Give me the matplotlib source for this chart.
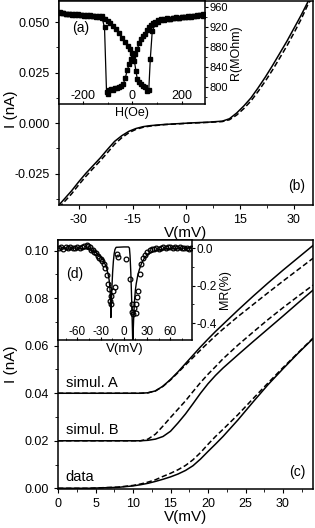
import numpy as np
import matplotlib
matplotlib.use("Agg")
import matplotlib.pyplot as plt
from matplotlib.ticker import MultipleLocator, FormatStrFormatter

plt.rcParams['font.family'] = ['Liberation Sans', 'DejaVu Sans']
plt.rcParams['axes.unicode_minus'] = False

# ---- panel (b): I-V, solid and dashed
vb = [-35.5, -32, -30, -28, -26, -24, -22, -20, -18, -16, -14, -12, -10, -6, -2, 0,
      2, 6, 10, 12, 14, 16, 18, 20, 22, 24, 26, 28, 30, 32, 34, 35.3]
ib_solid = [-0.0405, -0.0335, -0.0290, -0.0248, -0.0210, -0.0172, -0.0130, -0.0090, -0.0062,
            -0.0040, -0.0026, -0.0017, -0.0012, -0.0006, -0.0002, 0.0, 0.0002, 0.0005, 0.0010,
            0.0022, 0.0050, 0.0085, 0.0125, 0.0175, 0.0228, 0.0285, 0.0345, 0.0405, 0.0470,
            0.0535, 0.0605, 0.0630]
ib_dash = [-0.0418, -0.0350, -0.0305, -0.0263, -0.0224, -0.0186, -0.0146, -0.0104, -0.0072,
           -0.0047, -0.0030, -0.0020, -0.0014, -0.0007, -0.0003, -0.0001, 0.0001, 0.0004, 0.0008,
           0.0017, 0.0040, 0.0072, 0.0110, 0.0157, 0.0208, 0.0263, 0.0322, 0.0382, 0.0447,
           0.0515, 0.0592, 0.0625]

# ---- inset (a): R(H), two sweeps
h_a1 = [-292, -280, -268, -256, -244, -232, -220, -208, -196, -184, -172, -160, -148, -136,
        -124, -112, -104, -100, -92, -84, -76, -68, -60, -52, -44, -36, -28, -20, -12, -4, 4,
        12, 20, 28, 36, 44, 52, 60, 68, 76, 84, 92, 104, 116, 128, 140, 152, 164, 176, 188,
        200, 212, 224, 236, 248, 260, 272, 284]
r_a1 = [949, 947, 946, 945, 944, 945, 943, 944, 942, 943, 941, 942, 940, 941,
        942, 919, 790, 786, 793, 796, 794, 798, 797, 799, 802, 806, 818, 834, 846, 856, 861,
        866, 876, 887, 895, 901, 906, 914, 920, 924, 927, 929, 933, 935, 936, 937, 936, 938,
        939, 937, 940, 939, 941, 940, 942, 941, 943, 942]
h_a2 = [-292, -280, -268, -256, -244, -232, -220, -208, -196, -184, -172, -160, -148, -136,
        -124, -112, -100, -88, -76, -64, -52, -40, -28, -16, -8, 0, 8, 14, 20, 28, 36, 44, 52,
        60, 66, 72, 80, 92, 104, 116, 128, 140, 152, 164, 176, 188, 200, 212, 224, 236, 248,
        260, 272, 284]
r_a2 = [947, 948, 946, 945, 946, 944, 945, 943, 944, 942, 943, 941, 941, 939,
        938, 936, 932, 928, 922, 915, 907, 898, 890, 882, 875, 867, 852, 832, 815, 810, 806,
        802, 799, 792, 793, 855, 912, 925, 930, 933, 934, 936, 935, 937, 938, 937, 939, 940,
        939, 941, 942, 943, 944, 945]

# ---- panel (c): data and two simulations (offset), solid and dashed
vc = [0, 4, 8, 10, 11, 12, 13, 14, 15, 16, 17, 18, 19, 20, 21, 22, 24, 26, 28, 30, 32, 34]
data_solid = [0, 0.0, 0.0004, 0.0010, 0.0015, 0.0021, 0.0029, 0.0038, 0.0048, 0.0060, 0.0075,
              0.0095, 0.0123, 0.0155, 0.0186, 0.0218, 0.0288, 0.0363, 0.0436, 0.0503, 0.0568, 0.0630]
data_dash = [0, 0.0, 0.0005, 0.0012, 0.0018, 0.0026, 0.0036, 0.0050, 0.0063, 0.0078, 0.0096,
             0.0120, 0.0150, 0.0185, 0.0218, 0.0248, 0.0310, 0.0377, 0.0443, 0.0508, 0.0570, 0.0632]
simB_solid = [0.0200, 0.0200, 0.0200, 0.0200, 0.0200, 0.0202, 0.0207, 0.0218, 0.0240, 0.0275,
              0.0313, 0.0356, 0.0400, 0.0440, 0.0475, 0.0506, 0.0562, 0.0617, 0.0671, 0.0725,
              0.0780, 0.0834]
simB_dash = [0.0200, 0.0200, 0.0200, 0.0200, 0.0200, 0.0207, 0.0228, 0.0262, 0.0298, 0.0333,
             0.0368, 0.0407, 0.0445, 0.0480, 0.0512, 0.0545, 0.0603, 0.0657, 0.0710, 0.0760,
             0.0808, 0.0855]
simA_solid = [0.0400, 0.0400, 0.0400, 0.0400, 0.0400, 0.0402, 0.0410, 0.0430, 0.0458, 0.0490,
              0.0525, 0.0560, 0.0595, 0.0628, 0.0660, 0.0690, 0.0750, 0.0808, 0.0864, 0.0918,
              0.0970, 0.1022]
simA_dash = [0.0400, 0.0400, 0.0400, 0.0400, 0.0400, 0.0402, 0.0410, 0.0429, 0.0456, 0.0487,
             0.0519, 0.0550, 0.0582, 0.0612, 0.0642, 0.0670, 0.0723, 0.0773, 0.0823, 0.0872,
             0.0920, 0.0968]

# ---- inset (d): MR vs V, measured (circles) and simulated (line)
vd = [-84, -81, -78, -75, -72, -69, -66, -63, -60, -57, -54, -51, -48, -46, -44, -42, -40, -38,
      -36, -34, -32, -30, -28, -26, -24, -22, -20, -19, -18, -17, -16, -14, -12, -9, -7, 3, 7.7,
      10, 11, 12, 13, 15.5, 16.3, 17, 18.4, 20.6, 22.8, 25, 27, 30, 33.5, 36, 39, 42, 45, 48,
      51, 54, 57, 60, 63, 66, 69, 72, 75, 78, 81, 84, 87]
mrd = [0.002, 0.006, -0.003, 0.004, 0.001, 0.007, 0.002, -0.002, 0.005, 0.003, 0.008, 0.012,
       0.018, 0.010, 0.004, -0.008, -0.012, -0.020, -0.028, -0.040, -0.052, -0.058, -0.070,
       -0.085, -0.105, -0.146, -0.19, -0.216, -0.28, -0.30, -0.254, -0.23, -0.21, -0.029,
       -0.047, -0.056, -0.164, -0.30, -0.34, -0.35, -0.32, -0.30, -0.344, -0.263, -0.227,
       -0.137, -0.083, -0.055, -0.038, -0.020, -0.011, -0.006, -0.004, 0.002, -0.003, 0.001,
       0.004, 0.002, 0.006, 0.008, 0.003, 0.005, 0.001, 0.004, -0.002, 0.003, 0.001, -0.003,
       0.002]
vd_sim = [-85, -60, -50, -45, -40, -35, -30, -27, -24, -22, -20, -19, -18, -17.3, -16.7, -16.2,
          -15.5, -14.5, -13.5, -12.5, -11.5, -10, 0, 6, 7.2, 8, 9, 10, 11, 11.6, 12.2, 13, 14,
          15, 16, 18, 20, 23, 27, 32, 40, 50, 60, 88]
mrd_sim = [0, 0, -0.003, -0.008, -0.015, -0.027, -0.045, -0.062, -0.088, -0.11, -0.145, -0.17,
           -0.21, -0.26, -0.37, -0.31, -0.22, -0.13, -0.07, -0.03, -0.008, 0.004, 0.006, 0.006,
           0.0, -0.04, -0.13, -0.26, -0.42, -0.52, -0.43, -0.34, -0.27, -0.22, -0.19, -0.145,
           -0.115, -0.08, -0.05, -0.03, -0.015, -0.006, -0.002, 0]

W, H = 315.0, 528.0
fig = plt.figure(figsize=(W / 100, H / 100), dpi=100)


def box(l, t, r, b):
    return [l / W, 1 - b / H, (r - l) / W, (b - t) / H]


lw = 1.1
dash = (0, (3.5, 1.8))

# panel (b)
axb = fig.add_axes(box(59, 1, 313, 205))
axb.plot(vb, ib_solid, color='k', lw=lw)
axb.plot(vb, ib_dash, color='k', lw=lw, linestyle=dash)
axb.set_xlim(-35.5, 35.3)
axb.set_ylim(-0.0405, 0.0605)
axb.xaxis.set_major_locator(MultipleLocator(15))
axb.xaxis.set_minor_locator(MultipleLocator(7.5))
axb.yaxis.set_major_locator(MultipleLocator(0.025))
axb.yaxis.set_minor_locator(MultipleLocator(0.0125))
axb.yaxis.set_major_formatter(FormatStrFormatter('%.3f'))
axb.set_xlabel('V(mV)', fontsize=11, labelpad=0)
axb.set_ylabel('I (nA)', fontsize=11)
axb.yaxis.set_label_coords(-0.16, 0.47)
axb.text(0.97, 0.06, '(b)', transform=axb.transAxes, fontsize=10, ha='right', va='bottom')

# inset (a)
axa = fig.add_axes(box(59, 1, 205, 104))
axa.plot(h_a1, r_a1, color='k', lw=0.9, marker='s', ms=3.2)
axa.plot(h_a2, r_a2, color='k', lw=0.9, marker='s', ms=3.2)
axa.set_xlim(-295, 292)
axa.set_ylim(765, 972)
axa.xaxis.set_major_locator(MultipleLocator(200))
axa.xaxis.set_minor_locator(MultipleLocator(100))
axa.yaxis.set_major_locator(MultipleLocator(40))
axa.yaxis.set_minor_locator(MultipleLocator(20))
axa.yaxis.tick_right()
axa.yaxis.set_label_position('right')
axa.tick_params(axis='x', which='both', direction='in', pad=-10, labelsize=9)
axa.tick_params(axis='y', which='both', direction='out', labelsize=8, pad=1)
axa.tick_params(which='major', length=2.5)
axa.tick_params(which='minor', length=1.5)
axa.set_xlabel('H(Oe)', fontsize=9, labelpad=2)
axa.set_ylabel('R(MOhm)', fontsize=9, labelpad=1)
axa.text(0.09, 0.70, '(a)', transform=axa.transAxes, fontsize=10)

# panel (c)
axc = fig.add_axes(box(58, 240, 313, 489))
axc.plot(vc, data_solid, color='k', lw=lw)
axc.plot(vc, data_dash, color='k', lw=lw, linestyle=dash)
axc.plot(vc, simB_solid, color='k', lw=lw)
axc.plot(vc, simB_dash, color='k', lw=lw, linestyle=dash)
axc.plot(vc, simA_solid, color='k', lw=lw)
axc.plot(vc, simA_dash, color='k', lw=lw, linestyle=dash)
axc.set_xlim(0, 34)
axc.set_ylim(-0.0003, 0.1045)
axc.xaxis.set_major_locator(MultipleLocator(5))
axc.xaxis.set_minor_locator(MultipleLocator(2.5))
axc.yaxis.set_major_locator(MultipleLocator(0.02))
axc.yaxis.set_minor_locator(MultipleLocator(0.01))
axc.yaxis.set_major_formatter(FormatStrFormatter('%.2f'))
axc.set_xlabel('V(mV)', fontsize=11, labelpad=0)
axc.set_ylabel('I (nA)', fontsize=11)
axc.yaxis.set_label_coords(-0.157, 0.5)
axc.text(1.0, 0.0414, 'simul. A', fontsize=10.5, va='bottom')
axc.text(1.0, 0.0214, 'simul. B', fontsize=10.5, va='bottom')
axc.text(1.0, 0.0016, 'data', fontsize=10.5, va='bottom')
axc.text(0.97, 0.04, '(c)', transform=axc.transAxes, fontsize=10, ha='right', va='bottom')

# inset (d)
axd = fig.add_axes(box(58, 240, 192, 340))
axd.plot(vd_sim, mrd_sim, color='k', lw=1.0)
axd.plot(vd, mrd, linestyle='none', marker='o', ms=3.4, mfc='none', mec='k', mew=0.9)
axd.set_xlim(-85, 88)
axd.set_ylim(-0.49, 0.043)
axd.xaxis.set_major_locator(MultipleLocator(30))
axd.xaxis.set_minor_locator(MultipleLocator(15))
axd.yaxis.set_major_locator(MultipleLocator(0.2))
axd.yaxis.set_minor_locator(MultipleLocator(0.1))
axd.yaxis.set_major_formatter(FormatStrFormatter('%.1f'))
axd.yaxis.tick_right()
axd.yaxis.set_label_position('right')
axd.tick_params(axis='x', which='both', direction='in', pad=-10, labelsize=8.5)
axd.tick_params(axis='y', which='both', direction='out', labelsize=8.5, pad=1)
axd.tick_params(which='major', length=2.5)
axd.tick_params(which='minor', length=1.5)
axd.set_xlabel('V(mV)', fontsize=9.5, labelpad=2)
axd.set_ylabel('MR(%)', fontsize=9, labelpad=1)
axd.text(0.06, 0.62, '(d)', transform=axd.transAxes, fontsize=10)

for ax in (axb, axc):
    ax.tick_params(which='both', direction='out', labelsize=9)
    ax.tick_params(which='major', length=3)
    ax.tick_params(which='minor', length=2)
for ax in (axa, axb, axc, axd):
    for s in ax.spines.values():
        s.set_linewidth(1.1)

fig.savefig('out.png', dpi=100)
